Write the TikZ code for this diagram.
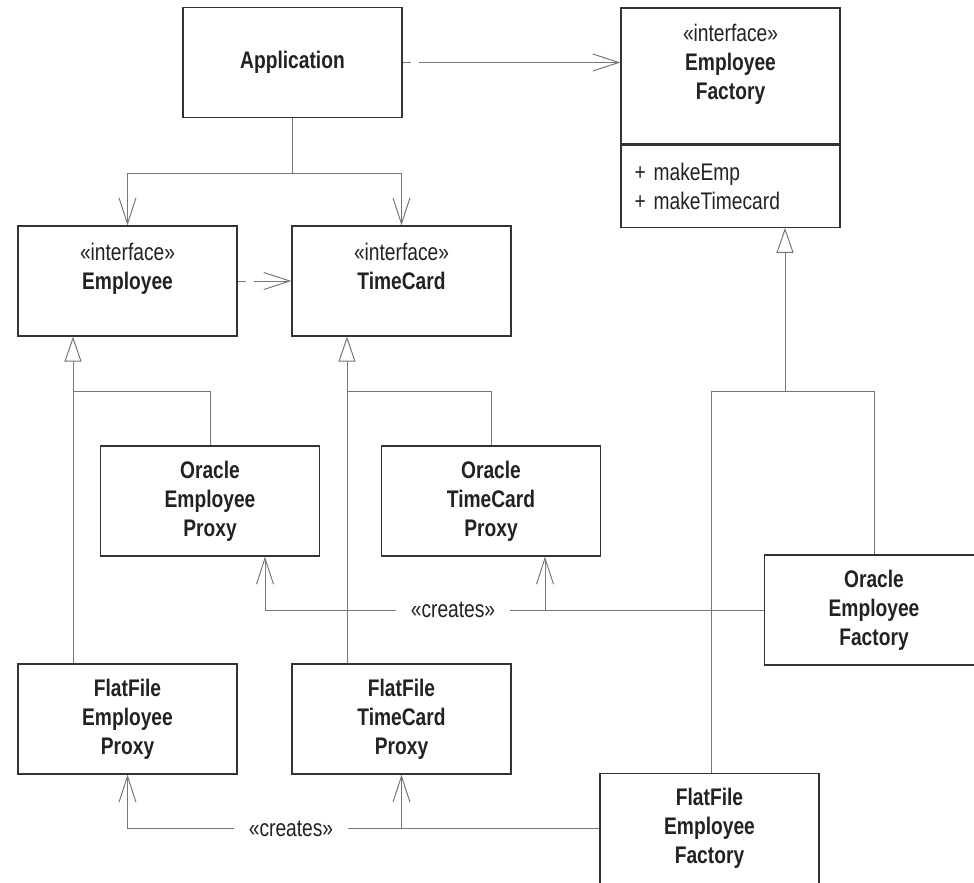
\documentclass[tikz,border=0pt]{standalone}
\usepackage{fontspec}
\setmainfont{Liberation Sans}[FakeStretch=0.8]
\usepackage{xcolor}
\usetikzlibrary{arrows.meta}
\definecolor{boxline}{HTML}{333333}
\definecolor{connline}{HTML}{777777}
\definecolor{inktext}{HTML}{222222}
\newcommand{\umlfont}{\fontsize{12}{14.5}\selectfont}

\begin{document}
\begin{tikzpicture}[x=0.5pt,y=-0.5pt,
    cls/.style={draw=boxline, line width=0.6pt, minimum width=109.5pt, minimum height=55pt,
        inner sep=0pt, align=center, text=inktext, font=\umlfont},
    impl/.style={cls, font=\umlfont\bfseries},
    conn/.style={draw=connline, line width=0.5pt},
    open/.style={conn, -{Straight Barb[length=13pt,width=8.5pt]}},
    inherit/.style={conn, -{Triangle[open,length=12.5pt,width=8.5pt,fill=white]}},
    dep/.style={open, dash pattern=on 4pt off 4pt on 400pt},
    stereotag/.style={fill=white, inner xsep=7pt, inner ysep=1pt, text=inktext, font=\umlfont}]
    \useasboundingbox (0,0) rectangle (974,883);
    \node[impl] (app) at (292.5,62.5) {Application};
    \node[cls, minimum height=68pt] (fac) at (730.5,76) {«interface»\\\textbf{Employee}\\\textbf{Factory}\\[-5pt]\strut};
    \node[cls, minimum height=41pt, anchor=north, align=left, text width=96pt, inner xsep=6.75pt] (facops) at (fac.south) {+ makeEmp\\+ makeTimecard};
    \node[cls] (emp) at (127.5,281) {«interface»\\\textbf{Employee}\\[-4pt]\strut};
    \node[cls] (tc) at (401.5,281) {«interface»\\\textbf{TimeCard}\\[-4pt]\strut};
    \node[impl] (oep) at (210,501) {Oracle\\Employee\\Proxy};
    \node[impl] (otp) at (491,501) {Oracle\\TimeCard\\Proxy};
    \node[impl] (oef) at (874,610) {Oracle\\Employee\\Factory};
    \node[impl] (fep) at (127.5,719) {FlatFile\\Employee\\Proxy};
    \node[impl] (ftp) at (401.5,719) {FlatFile\\TimeCard\\Proxy};
    \node[impl] (fef) at (709.5,828.5) {FlatFile\\Employee\\Factory};

    \draw[dep] (app.east) -- (app.east -| fac.west);
    \coordinate (appsplit) at (292.5,173);
    \draw[conn] (app.south) -- (appsplit);
    \draw[open] (appsplit) -| (emp.north);
    \draw[open] (appsplit) -| (tc.north);
    \draw[dep] (emp.east) -- (tc.west);

    \coordinate (empjoin) at (73,391);
    \draw[inherit] (empjoin |- fep.north) -- (empjoin |- emp.south);
    \draw[conn] (empjoin) -| (oep.north);
    \coordinate (tcjoin) at (347,391);
    \draw[inherit] (tcjoin |- ftp.north) -- (tcjoin |- tc.south);
    \draw[conn] (tcjoin) -| (otp.north);
    \coordinate (facjoin) at (785,391);
    \coordinate (fefjoin) at (711,391);
    \draw[inherit] (facjoin) -- (facjoin |- facops.south);
    \draw[conn] (fefjoin |- fef.north) -- (fefjoin) -- (fefjoin -| oef.north) -- (oef.north);

    \node[stereotag] (ocreates) at (453,610) {«creates»};
    \draw[conn] (oef.west) -- (ocreates.east);
    \draw[open] (ocreates.west) -| ([xshift=27.5pt]oep.south);
    \draw[open] ([xshift=27pt]otp.south |- oef.west) -- ([xshift=27pt]otp.south);
    \node[stereotag] (fcreates) at (291,828.5) {«creates»};
    \draw[conn] (fef.west) -- (fcreates.east);
    \draw[open] (fcreates.west) -| (fep.south);
    \draw[open] (ftp.south |- fef.west) -- (ftp.south);
\end{tikzpicture}
\end{document}
